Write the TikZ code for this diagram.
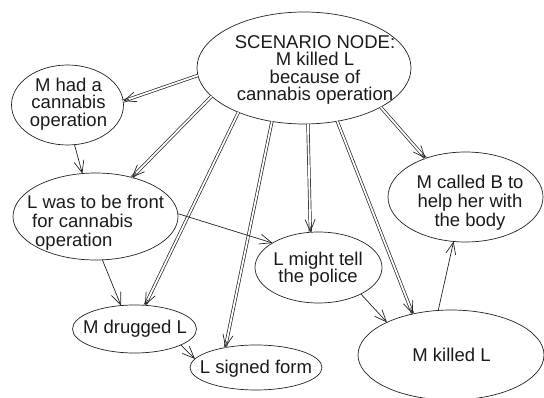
\documentclass[tikz,border=0pt]{standalone}
\usepackage{fontspec}
\setmainfont{Liberation Sans}
\usetikzlibrary{arrows.meta,calc,shapes.geometric}
\definecolor{lc}{HTML}{222222}
\definecolor{tc}{HTML}{1A1A1A}
\tikzset{
  ell/.style={ellipse, draw=lc, line width=0.7pt, inner sep=0pt, outer sep=0pt},
  txt/.style={font=\fontsize{18.5}{17.3}\selectfont, text=tc, inner sep=0pt, align=center, anchor=north},
  tipln/.style={draw=lc, line width=0.7pt, -{Straight Barb[length=12pt,width=10pt]}},
  dblln/.style={draw=lc, line width=0.7pt, double=white, double distance=1.8pt},
}
\newcommand\dblarr[2]{\draw[dblln] (#1) -- (#2); \draw[tipln] ($(#2)!6pt!(#1)$) -- (#2);}
\newcommand\sglarr[2]{\draw[tipln] (#1) -- (#2);}
\begin{document}
\begin{tikzpicture}[x=1pt,y=-1pt]
\useasboundingbox (0,0) rectangle (544,398);
\clip (0,0) rectangle (544,398);
% ellipses
\node[ell, minimum width=214pt, minimum height=112pt] (S) at (304,68) {};
\node[ell, minimum width=112pt, minimum height=80pt] (H) at (67.5,105) {};
\node[ell, minimum width=165pt, minimum height=87pt] (F) at (95.5,216.5) {};
\node[ell, minimum width=124pt, minimum height=48pt] (D) at (134.5,329) {};
\node[ell, minimum width=132pt, minimum height=45pt] (G) at (256,367.5) {};
\node[ell, minimum width=127pt, minimum height=71pt] (P) at (318.5,267.5) {};
\node[ell, minimum width=155pt, minimum height=90pt] (B) at (465.5,197) {};
\node[ell, minimum width=186pt, minimum height=90pt] (K) at (451,355) {};
% texts
\node[txt] (St) at (315,35.5) {SCENARIO NODE:\\M killed L\\because of\\cannabis operation};
\node[txt] (Ht) at (68.5,78) {M had a\\cannabis\\operation};
\node[txt, anchor=north west, align=left, font=\fontsize{18.5}{19}\selectfont] (Ft) at (27,195) {L was to be front\\\hspace*{5pt}for cannabis\\\hspace*{8pt}operation};
\node[txt] (Dt) at (135,320) {M drugged L};
\node[txt] (Gt) at (256,360) {L signed form};
\node[txt] (Pt) at (318,252) {L might tell\\the police};
\node[txt, font=\fontsize{18.5}{19}\selectfont] (Bt) at (470,175) {M called B to\\help her with\\the body};
\node[txt] (Kt) at (451.5,348) {M killed L};
% double arrows from scenario node
\dblarr{S.184}{H.4}
\dblarr{S.197}{F.47}
\dblarr{S.214}{D.66}
\dblarr{S.239}{G.147}
\dblarr{S.274}{P.103}
\dblarr{S.302}{K.133}
\dblarr{S.333}{B.136}
% single arrows
\sglarr{H.280}{F.107}
\sglarr{F.279}{D.120}
\sglarr{F.2}{P.152}
\sglarr{D.341}{G.172}
\sglarr{P.328}{K.153}
\sglarr{K.106}{B.255}
\end{tikzpicture}
\end{document}
